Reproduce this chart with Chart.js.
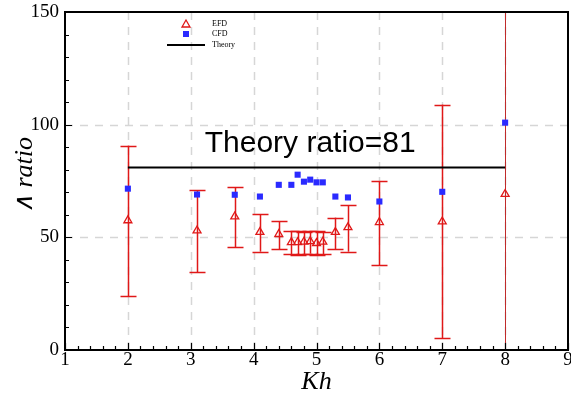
<!DOCTYPE html>
<html>
<head>
<meta charset="utf-8">
<script src="https://cdn.jsdelivr.net/npm/chart.js@4.4.1/dist/chart.umd.min.js"></script>
<style>
  html, body { margin: 0; padding: 0; background: #fff; }
  canvas { display: block; }
</style>
</head>
<body>
<canvas id="c" width="571" height="399"></canvas>
<script>
// ---- data ----
const khValues   = [2, 3.1, 3.7, 4.1, 4.4, 4.6, 4.7, 4.8, 4.9, 5.0, 5.1, 5.3, 5.5, 6, 7, 8];
const efdValues  = [57.5, 53, 59.2, 52.3, 51.4, 47.8, 47.8, 48, 48.2, 47.4, 48, 52.3, 54.4, 56.7, 57, 69.2];
const efdLow     = [23.9, 34.5, 45.5, 43.7, 44.8, 42.5, 42.2, 42.5, 42.8, 42.2, 42.5, 44.7, 43.7, 37.8, 5.2, -40];
const efdHigh    = [90.7, 70.8, 72.3, 60.3, 57.2, 52.6, 52.6, 52.3, 52.6, 52.6, 52.3, 58.8, 64.4, 75.1, 108.9, 190];
const cfdValues  = [71.6, 69, 68.9, 68.1, 73.3, 73.3, 77.8, 74.7, 75.6, 74.4, 74.4, 68.1, 67.7, 65.9, 70.2, 100.9];
const theoryKh   = [2, 8];
const theoryValues = [81, 81];
const xRange = [1, 9];
const yRange = [0, 150];
const xMajorStep = 1, xMinorStep = 0.2;
const yMajorStep = 50, yMinorStep = 10;
const seriesNames = ['EFD', 'CFD', 'Theory'];
const annotationText = 'Theory ratio=81';
const annotationAt = [4.9, 88];
const xTitle = 'Kh';
const yTitle = '\u2227 ratio';

const RED = '#e01818';
const BLUE = '#2a2aff';
const SERIF = '"Liberation Serif", "Times New Roman", serif';

const efdPoints = khValues.map((k, i) => ({ x: k, y: efdValues[i] }));
const cfdPoints = khValues.map((k, i) => ({ x: k, y: cfdValues[i] }));
const theoryPoints = theoryKh.map((k, i) => ({ x: k, y: theoryValues[i] }));

const tecplot = {
  id: 'tecplot',
  beforeDatasetsDraw(chart) {
    const { ctx, chartArea: a, scales: { x, y } } = chart;
    ctx.save();
    // dashed grid
    ctx.strokeStyle = '#d6d6d6';
    ctx.lineWidth = 1.5;
    ctx.setLineDash([8, 7]);
    for (let v = xRange[0] + xMajorStep; v < xRange[1] - 1e-9; v += xMajorStep) {
      const px = Math.round(x.getPixelForValue(v)) + 0.5;
      ctx.beginPath(); ctx.moveTo(px, a.bottom); ctx.lineTo(px, a.top); ctx.stroke();
    }
    for (let v = yRange[0] + yMajorStep; v < yRange[1] - 1e-9; v += yMajorStep) {
      const py = Math.round(y.getPixelForValue(v)) + 0.5;
      ctx.beginPath(); ctx.moveTo(a.left, py); ctx.lineTo(a.right, py); ctx.stroke();
    }
    ctx.setLineDash([]);
    // error bars
    ctx.beginPath(); ctx.rect(a.left, a.top, a.right - a.left, a.bottom - a.top); ctx.clip();
    khValues.forEach((k, i) => {
      const px = Math.round(x.getPixelForValue(k)) + 0.5;
      const pl = y.getPixelForValue(efdLow[i]);
      const ph = y.getPixelForValue(efdHigh[i]);
      const full = efdHigh[i] > yRange[1];
      ctx.strokeStyle = full ? '#c02a2a' : RED;
      ctx.lineWidth = full ? 1 : 1.5;
      ctx.beginPath();
      ctx.moveTo(px, pl); ctx.lineTo(px, ph);
      ctx.moveTo(px - 8, Math.round(pl) + 0.5); ctx.lineTo(px + 8, Math.round(pl) + 0.5);
      ctx.moveTo(px - 8, Math.round(ph) + 0.5); ctx.lineTo(px + 8, Math.round(ph) + 0.5);
      ctx.stroke();
    });
    ctx.restore();
  },
  afterDatasetsDraw(chart) {
    const { ctx, chartArea: a, scales: { x, y } } = chart;
    ctx.save();
    // frame
    ctx.strokeStyle = '#000';
    ctx.lineWidth = 2;
    ctx.strokeRect(a.left, a.top, a.right - a.left, a.bottom - a.top);
    // inward ticks
    ctx.lineWidth = 1.2;
    ctx.beginPath();
    const nx = Math.round((xRange[1] - xRange[0]) / xMinorStep);
    for (let i = 0; i <= nx; i++) {
      const v = xRange[0] + i * xMinorStep;
      const major = Math.abs(v / xMajorStep - Math.round(v / xMajorStep)) < 1e-6;
      const px = Math.round(x.getPixelForValue(v)) + 0.5;
      ctx.moveTo(px, a.bottom); ctx.lineTo(px, a.bottom - (major ? 7 : 4));
    }
    const ny = Math.round((yRange[1] - yRange[0]) / yMinorStep);
    for (let i = 0; i <= ny; i++) {
      const v = yRange[0] + i * yMinorStep;
      const major = Math.abs(v / yMajorStep - Math.round(v / yMajorStep)) < 1e-6;
      const py = Math.round(y.getPixelForValue(v)) + 0.5;
      ctx.moveTo(a.left, py); ctx.lineTo(a.left + (major ? 7 : 4), py);
    }
    ctx.stroke();

    // x tick labels, from the scale's own ticks
    ctx.fillStyle = '#000';
    ctx.font = '19px ' + SERIF;
    ctx.textAlign = 'center';
    ctx.textBaseline = 'middle';
    x.ticks.forEach(t => ctx.fillText(String(t.value), x.getPixelForValue(t.value), a.bottom + 10));

    // annotation
    ctx.font = '30px "Liberation Sans", Arial, sans-serif';
    ctx.textAlign = 'center';
    ctx.textBaseline = 'alphabetic';
    ctx.fillText(annotationText, x.getPixelForValue(annotationAt[0]), y.getPixelForValue(annotationAt[1]));

    // legend
    const lx = 186, ly = [24, 34, 45], tx = 212;
    ctx.strokeStyle = RED; ctx.lineWidth = 1.3;
    ctx.beginPath();
    ctx.moveTo(lx, ly[0] - 4); ctx.lineTo(lx + 4, ly[0] + 3); ctx.lineTo(lx - 4, ly[0] + 3); ctx.closePath();
    ctx.stroke();
    ctx.fillStyle = BLUE;
    ctx.fillRect(lx - 3, ly[1] - 3, 6, 6);
    ctx.strokeStyle = '#000'; ctx.lineWidth = 2;
    ctx.beginPath(); ctx.moveTo(167, ly[2]); ctx.lineTo(205, ly[2]); ctx.stroke();
    ctx.fillStyle = '#000';
    ctx.font = '8px ' + SERIF;
    ctx.textAlign = 'left';
    ctx.textBaseline = 'middle';
    seriesNames.forEach((n, i) => ctx.fillText(n, tx, ly[i]));

    // axis titles
    ctx.font = 'italic 26px ' + SERIF;
    ctx.textAlign = 'center';
    ctx.textBaseline = 'middle';
    ctx.fillText(xTitle, (a.left + a.right) / 2, 382);
    ctx.save();
    ctx.translate(25, 175);
    ctx.rotate(-Math.PI / 2);
    ctx.fillText(yTitle, 0, 0);
    ctx.restore();
    ctx.restore();
  }
};

new Chart(document.getElementById('c'), {
  type: 'scatter',
  data: {
    datasets: [
      {
        label: seriesNames[0], data: efdPoints,
        pointStyle: 'triangle', pointRadius: 4.6, borderColor: RED,
        backgroundColor: 'rgba(255,255,255,0)', borderWidth: 1.3, order: 2
      },
      {
        label: seriesNames[1], data: cfdPoints,
        pointStyle: 'rect', pointRadius: 4.3, borderColor: BLUE,
        backgroundColor: BLUE, borderWidth: 0, order: 1
      },
      {
        type: 'line', label: seriesNames[2], data: theoryPoints,
        showLine: true, borderColor: '#000', borderWidth: 2, pointRadius: 0, order: 3
      }
    ]
  },
  options: {
    responsive: false,
    animation: false,
    devicePixelRatio: 1,
    layout: { autoPadding: false, padding: { top: 12, right: 3, left: 0, bottom: 0 } },
    plugins: { legend: { display: false }, tooltip: { enabled: false } },
    scales: {
      x: {
        type: 'linear', min: xRange[0], max: xRange[1],
        grid: { display: false, drawTicks: false },
        border: { display: false },
        ticks: { display: false, stepSize: xMajorStep },
        afterFit(s) { s.height = 49; }
      },
      y: {
        type: 'linear', min: yRange[0], max: yRange[1],
        grid: { display: false, drawTicks: false },
        border: { display: false },
        ticks: { stepSize: yMajorStep, color: '#000', padding: 6,
                 font: { family: SERIF, size: 19 } },
        afterFit(s) { s.width = 65; s.paddingTop = 0; s.paddingBottom = 0; }
      }
    }
  },
  plugins: [tecplot]
});
</script>
</body>
</html>
